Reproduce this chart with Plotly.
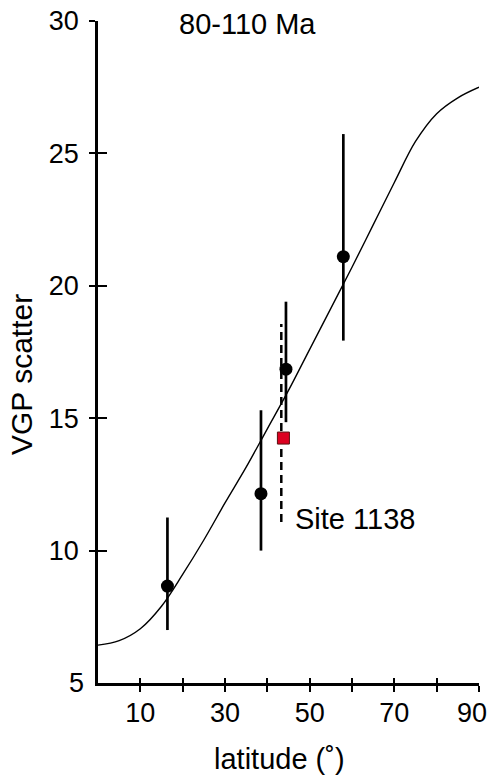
import plotly.graph_objects as go

# Model curve (VGP scatter vs latitude)
curve_lat = [0, 5, 10, 15, 20, 25, 30, 35, 40, 45, 50, 55, 60, 65, 70, 75, 80, 85, 90]
curve_s = [6.43, 6.6, 7.05, 7.9, 9.1, 10.4, 11.8, 13.15, 14.6, 16.05, 17.6, 19.15, 20.7, 22.3, 23.9, 25.45, 26.5, 27.1, 27.5]

# Data points with error bars
pt_lat = [16.4, 38.5, 44.4, 57.95]
pt_s = [8.66, 12.15, 16.85, 21.1]
pt_lo = [7.0, 10.0, 14.85, 17.93]
pt_hi = [11.25, 15.3, 19.4, 25.73]

# Site 1138
site_lat = 43.8
site_s = 14.25
site_line_lat = 43.3
site_lo = 11.08
site_hi = 18.56

x_ticks = [10, 20, 30, 40, 50, 60, 70, 80, 90]
x_ticktext = ["10", "", "30", "", "50", "", "70", "", ""]
last_x_label = "90"
y_ticks = [10, 15, 20, 25, 30]

FONT = "Liberation Sans, Arial, sans-serif"
FS_TICK = 27
FS_LAB = 29

L, R, T, B = 98, 13, 21, 95
W, H = 492, 778
PW, PH = W - L - R, H - T - B

fig = go.Figure()

fig.add_trace(go.Scatter(x=curve_lat, y=curve_s, mode="lines",
                         line=dict(color="black", width=1.4, shape="spline", smoothing=1.0),
                         hoverinfo="skip", showlegend=False))

fig.add_trace(go.Scatter(x=[site_line_lat, site_line_lat], y=[site_lo, site_hi], mode="lines",
                         line=dict(color="black", width=2.5, dash="8px,5px"),
                         showlegend=False))

fig.add_trace(go.Scatter(
    x=pt_lat, y=pt_s, mode="markers",
    marker=dict(color="black", size=13),
    error_y=dict(type="data", symmetric=False,
                 array=[h - s for h, s in zip(pt_hi, pt_s)],
                 arrayminus=[s - l for s, l in zip(pt_s, pt_lo)],
                 color="black", thickness=2.7, width=0),
    showlegend=False))

fig.add_trace(go.Scatter(x=[site_lat], y=[site_s], mode="markers",
                         marker=dict(symbol="square", color="#dc0020", size=12,
                                     line=dict(color="#5a1010", width=1)),
                         showlegend=False))

# dummy trace to activate overlay axes (inner halves of ticks)
fig.add_trace(go.Scatter(x=[None], y=[None], xaxis="x2", yaxis="y2", showlegend=False))

fig.add_annotation(x=35.2, y=29.9, text="80-110 Ma", showarrow=False,
                   xanchor="center", yanchor="middle", font=dict(size=FS_LAB, color="black", family=FONT))
fig.add_annotation(x=46.1, y=11.18, text="Site 1138", showarrow=False,
                   xanchor="left", yanchor="middle", font=dict(size=FS_LAB, color="black", family=FONT))
fig.add_annotation(x=0, y=5, text="5", showarrow=False,
                   xanchor="right", yanchor="middle", xshift=-12,
                   font=dict(size=FS_TICK, color="black", family=FONT))
fig.add_annotation(x=90, y=5, text=last_x_label, showarrow=False,
                   xanchor="right", yanchor="middle", xshift=10, yshift=-30,
                   font=dict(size=FS_TICK, color="black", family=FONT))
fig.add_annotation(x=(279 - L) / PW, y=-(759 - (H - B)) / PH, xref="paper", yref="paper",
                   text="latitude (˚)", showarrow=False, xanchor="center", yanchor="middle",
                   font=dict(size=FS_LAB, color="black", family=FONT))
fig.add_annotation(x=-(L - 21) / PW, y=((H - B) - 375) / PH, xref="paper", yref="paper",
                   text="VGP scatter", textangle=-90, showarrow=False,
                   xanchor="center", yanchor="middle", font=dict(size=FS_LAB + 1, color="black", family=FONT))

axis_common = dict(showgrid=False, zeroline=False, color="black", automargin=False)

fig.update_layout(
    width=W, height=H,
    margin=dict(l=L, r=R, t=T, b=B, autoexpand=False),
    paper_bgcolor="white", plot_bgcolor="white",
    font=dict(family=FONT, size=FS_TICK, color="black"),
    xaxis=dict(range=[0, 90], tickvals=x_ticks, ticktext=x_ticktext,
               ticks="outside", ticklen=6, tickwidth=2, tickcolor="black",
               ticklabeloverflow="allow", ticklabelstandoff=-2,
               showline=True, linecolor="black", linewidth=2.5, **axis_common),
    yaxis=dict(range=[5, 30], tickvals=y_ticks, ticks="outside", ticklen=6, tickwidth=2,
               tickcolor="black", showline=True, linecolor="black", linewidth=2.5,
               ticklabelstandoff=5, ticklabeloverflow="allow", **axis_common),
    xaxis2=dict(range=[0, 90], tickvals=x_ticks, showticklabels=False, ticks="inside",
                ticklen=5, tickwidth=2, tickcolor="black", overlaying="x", side="bottom",
                showline=False, **axis_common),
    yaxis2=dict(range=[5, 30], tickvals=y_ticks, showticklabels=False, ticks="inside",
                ticklen=9, tickwidth=2, tickcolor="black", overlaying="y", side="left",
                showline=False, **axis_common),
)

fig.write_html("out.html", config={"displayModeBar": False},
               post_script="document.body.style.margin='0';document.body.style.padding='0';")
